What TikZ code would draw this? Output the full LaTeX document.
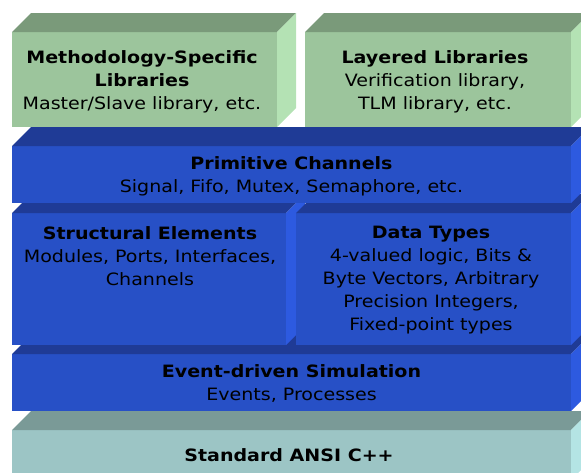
\documentclass[tikz,border=0pt]{standalone}
\usepackage{fontspec}
\setmainfont{DejaVu Sans}[FakeStretch=1.12]
\usetikzlibrary{positioning}
\definecolor{libfront}{HTML}{9CC59C}
\definecolor{libtop}{HTML}{7A9A7A}
\definecolor{libside}{HTML}{B4E2B4}
\definecolor{corefront}{HTML}{2750C6}
\definecolor{coretop}{HTML}{1F3B96}
\definecolor{coreside}{HTML}{2D5AE0}
\definecolor{basefront}{HTML}{9CC5C5}
\definecolor{basetop}{HTML}{7A9A97}
\definecolor{baseside}{HTML}{B4E4E4}

% one slab: front face, top face and right face (depth 19)
\newcommand{\layerslab}[5]{%
  \fill[#5front] (#1,#2) rectangle (#3,#4);
  \fill[#5top] (#1,#2) -- ++(19,-19) -- (#3+19,#2-19) -- (#3,#2) -- cycle;
  \fill[#5side] (#3,#2) -- ++(19,-19) -- (#3+19,#4-19) -- (#3,#4) -- cycle;
}

\begin{document}
\begin{tikzpicture}[x=1pt, y=-1pt,
    layertext/.style={align=center, inner sep=0pt, text=black,
      font=\fontsize{17}{23}\selectfont}]
  \useasboundingbox (0,0) rectangle (581,472);
  \clip (0,0) rectangle (581,472);

  % bottom to top
  \layerslab{12}{430}{571}{480}{base}
  \layerslab{12}{354}{571}{411}{core}
  \layerslab{12}{213}{286}{345}{core}
  \layerslab{296}{213}{571}{345}{core}
  \layerslab{12}{146}{571}{203}{core}
  \layerslab{12}{32}{277}{127}{lib}
  \layerslab{305}{32}{571}{127}{lib}

  \node[layertext] (ansi) at (289,455) {\textbf{Standard ANSI C++}};
  \node[layertext] (sim) at (291.5,384) {\textbf{Event-driven Simulation}\\Events, Processes};
  \node[layertext, anchor=north] (struct) at (150,226) {\textbf{Structural Elements}\\Modules, Ports, Interfaces,\\Channels};
  \node[layertext, anchor=north] (types) at (431,226) {\textbf{Data Types}\\4-valued logic, Bits \&\\Byte Vectors, Arbitrary\\Precision Integers,\\Fixed-point types};
  \node[layertext] (prim) at (291.5,176) {\textbf{Primitive Channels}\\Signal, Fifo, Mutex, Semaphore, etc.};
  \node[layertext] (method) at (142,82) {\textbf{Methodology-Specific}\\\textbf{Libraries}\\Master/Slave library, etc.};
  \node[layertext] (layered) at (435,82) {\textbf{Layered Libraries}\\Verification library,\\TLM library, etc.};
\end{tikzpicture}
\end{document}
